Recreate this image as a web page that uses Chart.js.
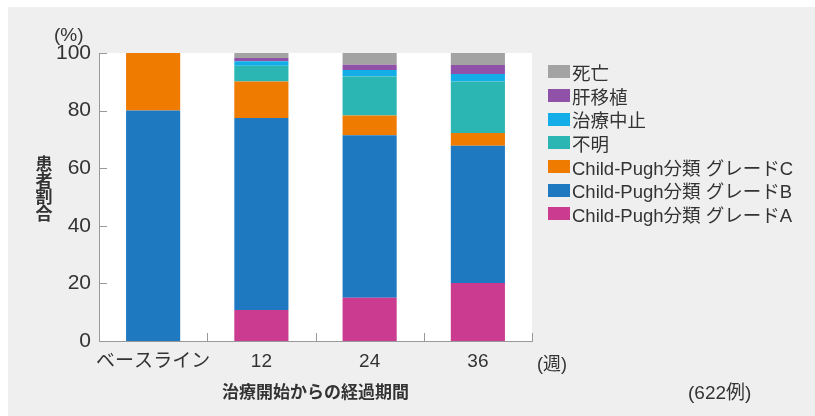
<!DOCTYPE html>
<html lang="ja">
<head>
<meta charset="utf-8">
<script src="https://cdn.jsdelivr.net/npm/chart.js@4.4.1/dist/chart.umd.min.js"></script>
<style>
  html, body { margin: 0; padding: 0; background: #fff; }
  #wrap { position: relative; width: 815px; height: 416px; overflow: hidden; }
  #panel { position: absolute; left: 8px; top: 7px; right: 0; bottom: 0; background: #efefef; }
  #chart { position: absolute; left: 0; top: 0; }
  .txt { position: absolute; font-family: "Liberation Sans", "Noto Sans CJK JP", sans-serif; color: #333; white-space: nowrap; }
  #legend { position: absolute; left: 548px; top: 60px; }
  #legend .item { height: 23.7px; display: flex; align-items: center; font-size: 18.5px; color: #333; font-family: "Liberation Sans", "Noto Sans CJK JP", sans-serif; }
  #legend .box { width: 22px; height: 13px; margin-right: 2px; }
</style>
</head>
<body>
<div id="wrap">
  <div id="panel"></div>
  <canvas id="chart" width="815" height="416"></canvas>
  <div class="txt" style="left:54px; top:24px; font-size:19px;">(%)</div>
  <div class="txt" style="left:537px; top:349px; font-size:18px;">(週)</div>
  <div class="txt" style="left:688px; top:377px; font-size:19px;">(622例)</div>
  <div id="legend"></div>
</div>
<script>
// categories (weeks from start of treatment)
const categories = ["ベースライン", "12", "24", "36"];

// series, bottom of stack first
const seriesNames = [
  "Child-Pugh分類 グレードA",
  "Child-Pugh分類 グレードB",
  "Child-Pugh分類 グレードC",
  "不明",
  "治療中止",
  "肝移植",
  "死亡"
];
const gradeA = [0, 10.8, 15, 20.1];
const gradeB = [80, 66.6, 56.4, 47.7];
const gradeC = [20, 12.7, 6.9, 4.4];
const unknown = [0, 5.5, 13.5, 17.9];
const stopped = [0, 1.5, 2.3, 2.6];
const transplant = [0, 1.2, 1.8, 3.1];
const death = [0, 1.7, 4.1, 4.2];

const yTicks = [0, 20, 40, 60, 80, 100];
const yTitle = "患者割合";

const seriesValues = [gradeA, gradeB, gradeC, unknown, stopped, transplant, death];
const seriesColors = ["#cb3b8f", "#1f79c1", "#ef7b00", "#2bb5b3", "#13aee8", "#8f52a8", "#a3a3a3"];

const FONT = "'Liberation Sans', 'Noto Sans CJK JP', sans-serif";

// white plot area, inward tick marks, vertical y title
const plotDeco = {
  id: "plotDeco",
  beforeDraw(chart) {
    const { ctx, chartArea: a } = chart;
    ctx.save();
    ctx.fillStyle = "#ffffff";
    ctx.fillRect(a.left, a.top, a.right - a.left, a.bottom - a.top);
    ctx.restore();
  },
  afterDraw(chart) {
    const { ctx, chartArea: a } = chart;
    const xs = chart.scales.x, ys = chart.scales.y;
    ctx.save();
    ctx.strokeStyle = "#999";
    ctx.lineWidth = 1;
    ctx.beginPath();
    yTicks.forEach(v => {
      const py = Math.round(ys.getPixelForValue(v)) + 0.5;
      ctx.moveTo(a.left, py);
      ctx.lineTo(a.left + 8, py);
    });
    const w = xs.getPixelForValue(1) - xs.getPixelForValue(0);
    categories.forEach((c, i) => {
      const px = Math.round(xs.getPixelForValue(i) + w / 2) + 0.5;
      ctx.moveTo(px, a.bottom);
      ctx.lineTo(px, a.bottom - 8);
    });
    ctx.stroke();

    // stacked vertical title
    ctx.fillStyle = "#333";
    ctx.font = "bold 17px 'Noto Sans CJK JP', sans-serif";
    ctx.textAlign = "center";
    ctx.textBaseline = "middle";
    [...yTitle].forEach((ch, i) => ctx.fillText(ch, 44, 164 + i * 16.5));
    ctx.restore();
  }
};

const datasets = seriesNames.map((name, i) => ({
  label: name,
  data: seriesValues[i],
  backgroundColor: seriesColors[i],
  borderWidth: 0,
  barPercentage: 1.0,
  categoryPercentage: 0.5
}));

new Chart(document.getElementById("chart"), {
  type: "bar",
  data: { labels: categories, datasets: datasets },
  plugins: [plotDeco],
  options: {
    responsive: false,
    animation: false,
    layout: { padding: { left: 0, top: 53, right: 283, bottom: 0 } },
    plugins: { legend: { display: false }, tooltip: { enabled: false } },
    scales: {
      x: {
        stacked: true,
        grid: { display: false, drawTicks: false },
        border: { display: true, color: "#999", width: 1 },
        ticks: {
          color: "#333", padding: 9, autoSkip: false, maxRotation: 0, minRotation: 0,
          font: { family: FONT, size: 19 }
        },
        title: {
          display: true,
          text: "治療開始からの経過期間",
          color: "#333",
          font: { family: FONT, size: 17, weight: "bold" },
          padding: { top: 0, bottom: 12 }
        },
        afterFit: s => { s.height = 75; }
      },
      y: {
        stacked: true,
        min: 0,
        max: 100,
        grid: { display: false, drawTicks: false },
        border: { display: true, color: "#999", width: 1 },
        ticks: { stepSize: 20, color: "#333", padding: 8, font: { family: FONT, size: 21 } },
        afterFit: s => { s.width = 99; }
      }
    }
  }
});

// legend, top of stack first
const legend = document.getElementById("legend");
for (let i = seriesNames.length - 1; i >= 0; i--) {
  const item = document.createElement("div");
  item.className = "item";
  item.innerHTML = `<span class="box" style="background:${seriesColors[i]}"></span><span>${seriesNames[i]}</span>`;
  legend.appendChild(item);
}
</script>
</body>
</html>
